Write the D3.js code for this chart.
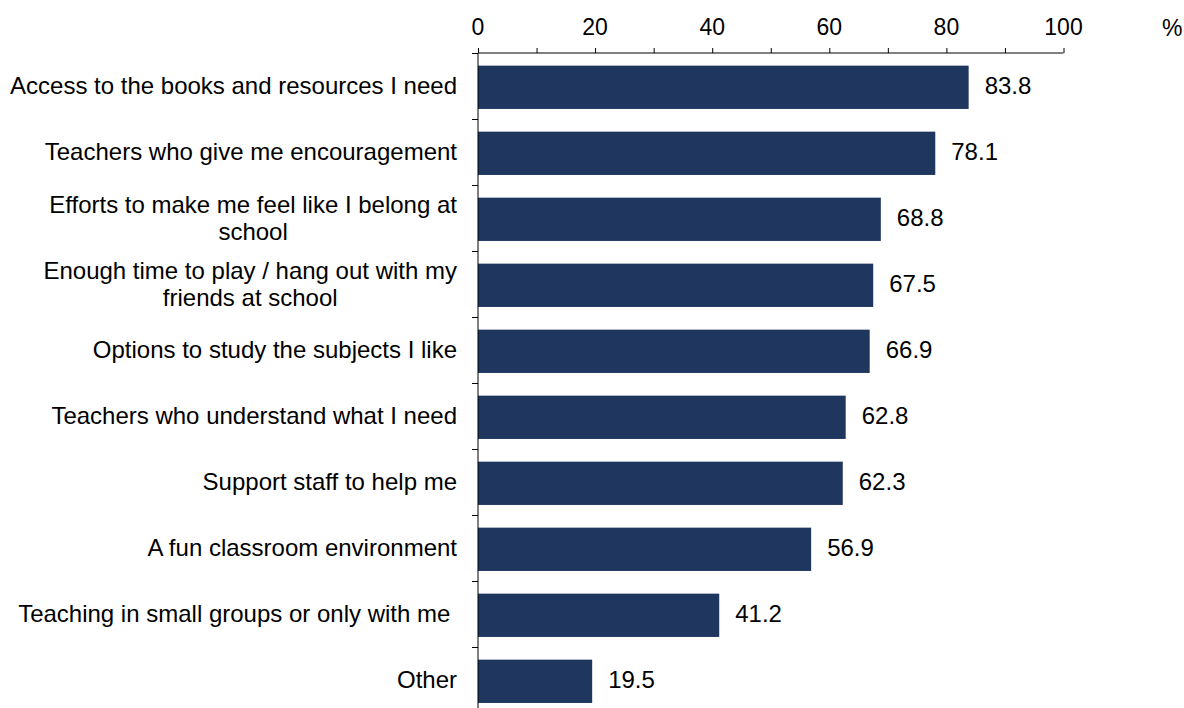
<!DOCTYPE html>
<html>
<head>
<meta charset="utf-8">
<script src="https://cdn.jsdelivr.net/npm/d3@7"></script>
<style>
  html, body { margin: 0; padding: 0; background: #fff; }
  svg { display: block; font-family: "Liberation Sans", Arial, sans-serif; }
  .cat-label { white-space: pre; }
</style>
</head>
<body>
<svg id="chart" width="1184" height="708"></svg>
<script>
// Survey responses: share of pupils (%) naming each item
const categories = [
  ["Access to the books and resources I need"],
  ["Teachers who give me encouragement"],
  ["Efforts to make me feel like I belong at", "school"],
  ["Enough time to play / hang out with my", "friends at school"],
  ["Options to study the subjects I like"],
  ["Teachers who understand what I need"],
  ["Support staff to help me"],
  ["A fun classroom environment"],
  ["Teaching in small groups or only with me "],
  ["Other"]
];
const values = [83.8, 78.1, 68.8, 67.5, 66.9, 62.8, 62.3, 56.9, 41.2, 19.5];
const tickValues = [0, 20, 40, 60, 80, 100];
const minorTicks = [0, 10, 20, 30, 40, 50, 60, 70, 80, 90, 100];
const unitLabel = "%";

const svg = d3.select("#chart");
const barColor = "#1f365f";

const x = d3.scaleLinear().domain([0, 100]).range([478, 1063.5]);
const keys = categories.map((c, i) => i);
// category bands (tick marks sit on their boundaries)
const band = d3.scaleBand().domain(keys).range([53, 713]).padding(0);
// bars inside each band
const barBand = d3.scaleBand().domain(keys).range([54.3, 714.3])
  .paddingInner(0.344).paddingOuter(0.172);

// top value axis
const axisTop = d3.axisTop(x).tickValues(minorTicks).tickSize(5).tickFormat("");
const gx = svg.append("g").attr("transform", "translate(0,53)").call(axisTop);
gx.select(".domain").attr("stroke", "#000").attr("d", `M${x(0)},0H${x(100)}`);
gx.selectAll(".tick line").attr("stroke", "#000");

svg.append("g").selectAll("text").data(tickValues).join("text")
  .attr("x", d => x(d)).attr("y", 35)
  .attr("text-anchor", "middle")
  .attr("font-size", 23)
  .attr("fill", "#000")
  .text(d => d);

svg.append("text")
  .attr("x", 1162).attr("y", 36)
  .attr("font-size", 23)
  .attr("fill", "#000")
  .text(unitLabel);

// bars
svg.append("g").selectAll("rect").data(values).join("rect")
  .attr("x", x(0))
  .attr("y", (d, i) => barBand(i))
  .attr("width", d => x(d) - x(0))
  .attr("height", barBand.bandwidth())
  .attr("fill", barColor);

// value labels
svg.append("g").selectAll("text").data(values).join("text")
  .attr("x", d => x(d) + 16)
  .attr("y", (d, i) => band(i) + band.bandwidth() / 2)
  .attr("dy", "0.35em")
  .attr("font-size", 24)
  .attr("fill", "#000")
  .text(d => d.toFixed(1));

// left category axis
svg.append("line")
  .attr("x1", x(0)).attr("x2", x(0))
  .attr("y1", 53).attr("y2", 708)
  .attr("stroke", "#000");
svg.append("g").selectAll("line").data(keys).join("line")
  .attr("x1", x(0) - 6).attr("x2", x(0))
  .attr("y1", i => band(i) + 0.5).attr("y2", i => band(i) + 0.5)
  .attr("stroke", "#000");

// category labels: block right-aligned, wrapped lines centred on each other
const labelRight = 457;
const lineGap = 27;
const lab = svg.append("g");
categories.forEach((lines, i) => {
  const cy = band(i) + band.bandwidth() / 2;
  const g = lab.append("g");
  const texts = lines.map((s, j) => g.append("text")
    .attr("class", "cat-label")
    .attr("y", cy + (j - (lines.length - 1) / 2) * lineGap)
    .attr("dy", "0.35em")
    .attr("font-size", 24)
    .attr("fill", "#000")
    .attr("text-anchor", "middle")
    .text(s));
  const w = d3.max(texts, t => t.node().getComputedTextLength());
  texts.forEach(t => t.attr("x", labelRight - w / 2));
});
</script>
</body>
</html>
